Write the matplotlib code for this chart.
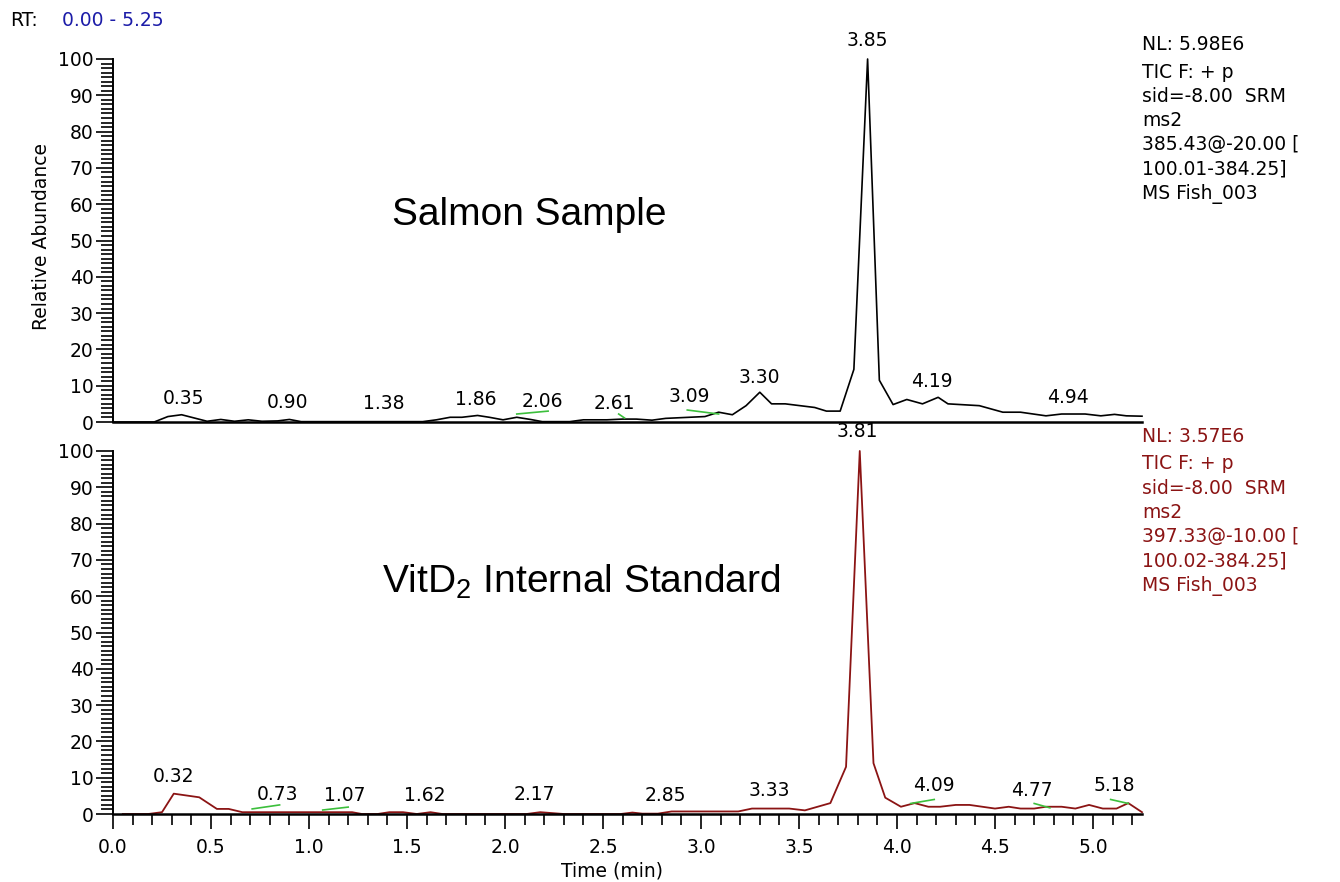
import matplotlib
matplotlib.use('Agg')
from matplotlib import pyplot as plt
from matplotlib.ticker import MultipleLocator, FormatStrFormatter

plt.rcParams['font.family'] = ['DejaVu Sans']
plt.rcParams['mathtext.default'] = 'regular'

# salmon sample trace (time in min, relative abundance in %)
top_t = [0.00, 0.21, 0.28, 0.35, 0.48, 0.55, 0.62, 0.69, 0.76, 0.84, 0.90, 0.96,
         1.58, 1.65, 1.72, 1.78, 1.86, 1.92, 1.99, 2.06, 2.13, 2.19, 2.33, 2.40,
         2.52, 2.60, 2.67, 2.75, 2.82, 2.90, 3.02, 3.09, 3.16, 3.23, 3.30, 3.36,
         3.43, 3.58, 3.64, 3.71, 3.78, 3.85, 3.91, 3.98, 4.05, 4.13, 4.21, 4.26,
         4.42, 4.54, 4.63, 4.76, 4.84, 4.96, 5.04, 5.11, 5.17, 5.25]
top_y = [0.0, 0.0, 1.5, 2.0, 0.2, 0.7, 0.2, 0.6, 0.2, 0.3, 0.7, 0.1,
         0.1, 0.6, 1.3, 1.3, 1.8, 1.3, 0.6, 1.3, 0.7, 0.1, 0.1, 0.6,
         0.6, 0.8, 0.8, 0.5, 1.0, 1.2, 1.5, 2.7, 2.0, 4.5, 8.2, 5.0,
         5.0, 4.0, 3.0, 3.0, 14.5, 100.0, 11.5, 4.8, 6.2, 5.0, 6.8, 5.0,
         4.5, 2.7, 2.7, 1.7, 2.2, 2.2, 1.7, 2.1, 1.7, 1.6]

# VitD2 internal standard trace
bot_t = [0.05, 0.18, 0.25, 0.31, 0.44, 0.53, 0.59, 0.66, 1.22, 1.27, 1.35, 1.41,
         1.48, 1.55, 1.62, 1.68, 2.11, 2.18, 2.30, 2.59, 2.65, 2.70, 2.78, 2.85,
         3.19, 3.26, 3.45, 3.53, 3.66, 3.74, 3.81, 3.88, 3.94, 4.02, 4.09, 4.16,
         4.22, 4.30, 4.37, 4.50, 4.57, 4.63, 4.70, 4.76, 4.84, 4.91, 4.98, 5.05,
         5.12, 5.18, 5.25]
bot_y = [0.0, 0.0, 0.5, 5.6, 4.6, 1.4, 1.4, 0.5, 0.5, 0.0, 0.0, 0.5,
         0.5, 0.0, 0.5, 0.0, 0.0, 0.5, 0.0, 0.0, 0.4, 0.1, 0.1, 0.7,
         0.7, 1.5, 1.5, 1.0, 3.0, 13.0, 100.0, 14.0, 4.5, 2.0, 3.0, 2.0,
         2.0, 2.5, 2.5, 1.5, 2.0, 1.5, 1.5, 2.0, 2.0, 1.5, 2.5, 1.5,
         1.5, 3.0, 0.5]

# peak labels: text, label x, label y
top_labels = [('3.85', 3.85, 102.5), ('0.35', 0.36, 3.9), ('0.90', 0.89, 2.8),
              ('1.38', 1.38, 2.5), ('1.86', 1.85, 3.6), ('2.06', 2.19, 3.0),
              ('2.61', 2.56, 2.5), ('3.09', 2.94, 4.4), ('3.30', 3.30, 9.6),
              ('4.19', 4.18, 8.5), ('4.94', 4.87, 4.1)]
bot_labels = [('3.81', 3.80, 102.7), ('0.32', 0.31, 7.7), ('0.73', 0.84, 2.8),
              ('1.07', 1.18, 2.5), ('1.62', 1.59, 2.5), ('2.17', 2.15, 2.8),
              ('2.85', 2.82, 2.5), ('3.33', 3.35, 3.9), ('4.09', 4.19, 5.2),
              ('4.77', 4.69, 3.9), ('5.18', 5.11, 5.2)]

# green leader lines: x0, y0, x1, y1
top_leads = [(2.06, 2.2, 2.22, 3.0), (2.58, 2.2, 2.61, 1.1), (2.93, 3.3, 3.09, 2.2)]
bot_leads = [(0.71, 1.4, 0.85, 2.5), (1.07, 1.1, 1.20, 1.9), (4.07, 2.9, 4.19, 4.0),
             (4.70, 2.9, 4.78, 1.7), (5.09, 4.0, 5.18, 2.9)]

top_info = ['NL: 5.98E6', 'TIC F: + p', 'sid=-8.00  SRM', 'ms2',
            '385.43@-20.00 [', '100.01-384.25]', 'MS Fish_003']
bot_info = ['NL: 3.57E6', 'TIC F: + p', 'sid=-8.00  SRM', 'ms2',
            '397.33@-10.00 [', '100.02-384.25]', 'MS Fish_003']

RED = '#8b1414'
GREEN = '#3cbf3c'
W, H = 1340.0, 882.0
FS = 13.5

fig = plt.figure(figsize=(13.4, 8.82), dpi=100)
ax1 = fig.add_axes([113 / W, 1 - 422 / H, 1029 / W, 363 / H])
ax2 = fig.add_axes([113 / W, 1 - 814 / H, 1029 / W, 363 / H])


def style(ax):
	ax.set_xlim(0, 5.25)
	ax.set_ylim(0, 100)
	ax.spines['top'].set_visible(False)
	ax.spines['right'].set_visible(False)
	ax.spines['left'].set_linewidth(1.4)
	ax.spines['bottom'].set_linewidth(1.8)
	ax.yaxis.set_major_locator(MultipleLocator(10))
	ax.yaxis.set_minor_locator(MultipleLocator(1.25))
	ax.tick_params(axis='y', which='major', length=12, width=1.2, labelsize=FS, pad=2)
	ax.tick_params(axis='y', which='minor', length=8.5, width=1.2)


style(ax1)
style(ax2)

ax1.plot(top_t, top_y, color='black', lw=1.2, clip_on=False)
ax2.plot(bot_t, bot_y, color=RED, lw=1.3, clip_on=False)

ax1.tick_params(axis='x', which='both', bottom=False, labelbottom=False)
ax2.xaxis.set_major_locator(MultipleLocator(0.5))
ax2.xaxis.set_minor_locator(MultipleLocator(0.1))
ax2.xaxis.set_major_formatter(FormatStrFormatter('%.1f'))
ax2.tick_params(axis='x', which='major', length=11, width=1.2, labelsize=FS, pad=6)
ax2.tick_params(axis='x', which='minor', length=8, width=1.2)

for ax, labels, leads in [(ax1, top_labels, top_leads), (ax2, bot_labels, bot_leads)]:
	for txt, x, y in labels:
		ax.text(x, y, txt, ha='center', va='bottom', fontsize=FS, clip_on=False)
	for x0, y0, x1, y1 in leads:
		ax.plot([x0, x1], [y0, y1], color=GREEN, lw=1.2, clip_on=False)

ax1.text(0.405, 0.57, 'Salmon Sample', transform=ax1.transAxes, ha='center',
	va='center', fontsize=28, family='Liberation Sans')
ax2.text(0.455, 0.64, 'VitD$_2$ Internal Standard', transform=ax2.transAxes,
	ha='center', va='center', fontsize=28, family='Liberation Sans')

# instrument info blocks
for i, line in enumerate(top_info):
	y = 45 if i == 0 else 72 + 24.3 * (i - 1)
	fig.text(1142 / W, 1 - y / H, line, ha='left', va='center', fontsize=FS)
for i, line in enumerate(bot_info):
	y = 437 if i == 0 else 464 + 24.3 * (i - 1)
	fig.text(1142 / W, 1 - y / H, line, ha='left', va='center', fontsize=FS, color=RED)

fig.text(10 / W, 1 - 20 / H, 'RT:', ha='left', va='center', fontsize=FS)
fig.text(62 / W, 1 - 20 / H, '0.00 - 5.25', ha='left', va='center', fontsize=FS,
	color='#1c1ca8')

fig.text(42 / W, 1 - 236 / H, 'Relative Abundance', rotation=90, ha='center',
	va='center', fontsize=13.5)
fig.text(612 / W, 1 - 871 / H, 'Time (min)', ha='center', va='center', fontsize=FS)

fig.savefig('out.png', dpi=100, facecolor='white')
